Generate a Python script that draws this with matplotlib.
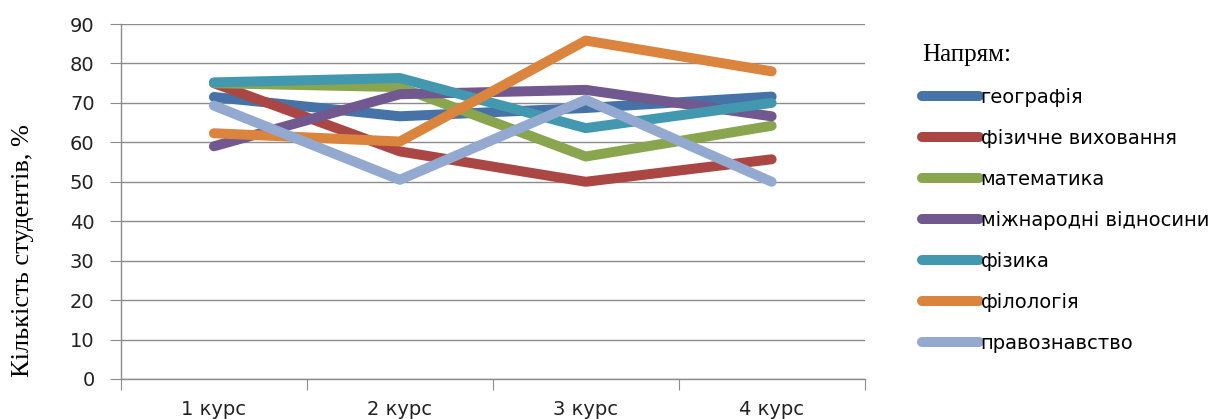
import matplotlib
matplotlib.use("Agg")
import matplotlib.pyplot as plt
import numpy as np

categories = ["1 курс", "2 курс", "3 курс", "4 курс"]
geografiya = [71.5, 66.6, 68.7, 71.6]
fiz_vykhovannya = [75.0, 57.7, 50.0, 55.7]
matematyka = [75.0, 74.0, 56.4, 64.2]
mizhnarodni = [59.0, 72.2, 73.3, 66.6]
fizyka = [75.2, 76.3, 63.6, 70.0]
filologiya = [62.3, 60.2, 85.8, 78.0]
pravoznavstvo = [69.3, 50.5, 70.8, 50.0]

series_names = ["географія", "фізичне виховання", "математика",
                "міжнародні відносини", "фізика", "філологія", "правознавство"]
series_values = [geografiya, fiz_vykhovannya, matematyka, mizhnarodni,
                 fizyka, filologiya, pravoznavstvo]
colors = ["#4572A7", "#AA4643", "#89A54E", "#71588F", "#4198AF", "#DB843D", "#93A9CF"]

fig = plt.figure(figsize=(12.16, 4.19), dpi=100)
ax = fig.add_axes([0.0995, 0.0955, 0.6115, 0.8472])

x = np.arange(len(categories))
for name, vals, c in zip(series_names, series_values, colors):
    ax.plot(x, vals, color=c, lw=7.2, label=name,
            solid_capstyle="round", solid_joinstyle="round")

ax.set_xlim(-0.5, len(categories) - 0.5)
ax.set_ylim(0, 90)
ax.set_yticks(np.arange(0, 91, 10))
ax.yaxis.grid(True, color="#8c8c8c", lw=1.0)
ax.set_axisbelow(True)

ax.set_xticks(np.arange(-0.5, len(categories), 1.0))
ax.set_xticklabels([])
ax.set_xticks(x, minor=True)
ax.set_xticklabels(categories, minor=True)
ax.tick_params(axis="x", which="major", length=8, color="#8c8c8c", direction="out")
ax.tick_params(axis="x", which="minor", length=0, pad=15)
ax.tick_params(axis="y", length=8, color="#8c8c8c", direction="out", pad=11)
for lab in ax.get_xticklabels(minor=True) + ax.get_yticklabels():
    lab.set_fontfamily("DejaVu Sans")
    lab.set_fontsize(14)
    lab.set_color("#222222")

for s in ["top", "right"]:
    ax.spines[s].set_visible(False)
for s in ["left", "bottom"]:
    ax.spines[s].set_color("#8c8c8c")
    ax.spines[s].set_linewidth(1.0)

fig.text(0.019, 0.403, "Кількість студентів, %", rotation=90, va="center", ha="center",
         family="Liberation Serif", fontsize=19)

leg = fig.legend(loc="upper left", bbox_to_anchor=(0.752, 0.913), frameon=False,
                 prop={"family": "DejaVu Sans", "size": 14}, handlelength=2.9,
                 handletextpad=0.1, labelspacing=1.13, borderaxespad=0,
                 title="Напрям:", alignment="left")
leg.get_title().set_fontfamily("Liberation Serif")
leg.get_title().set_fontsize(18)
for line in leg.get_lines():
    line.set_linewidth(7.2)
    line.set_solid_capstyle("round")

fig.savefig("out.png", dpi=100)
